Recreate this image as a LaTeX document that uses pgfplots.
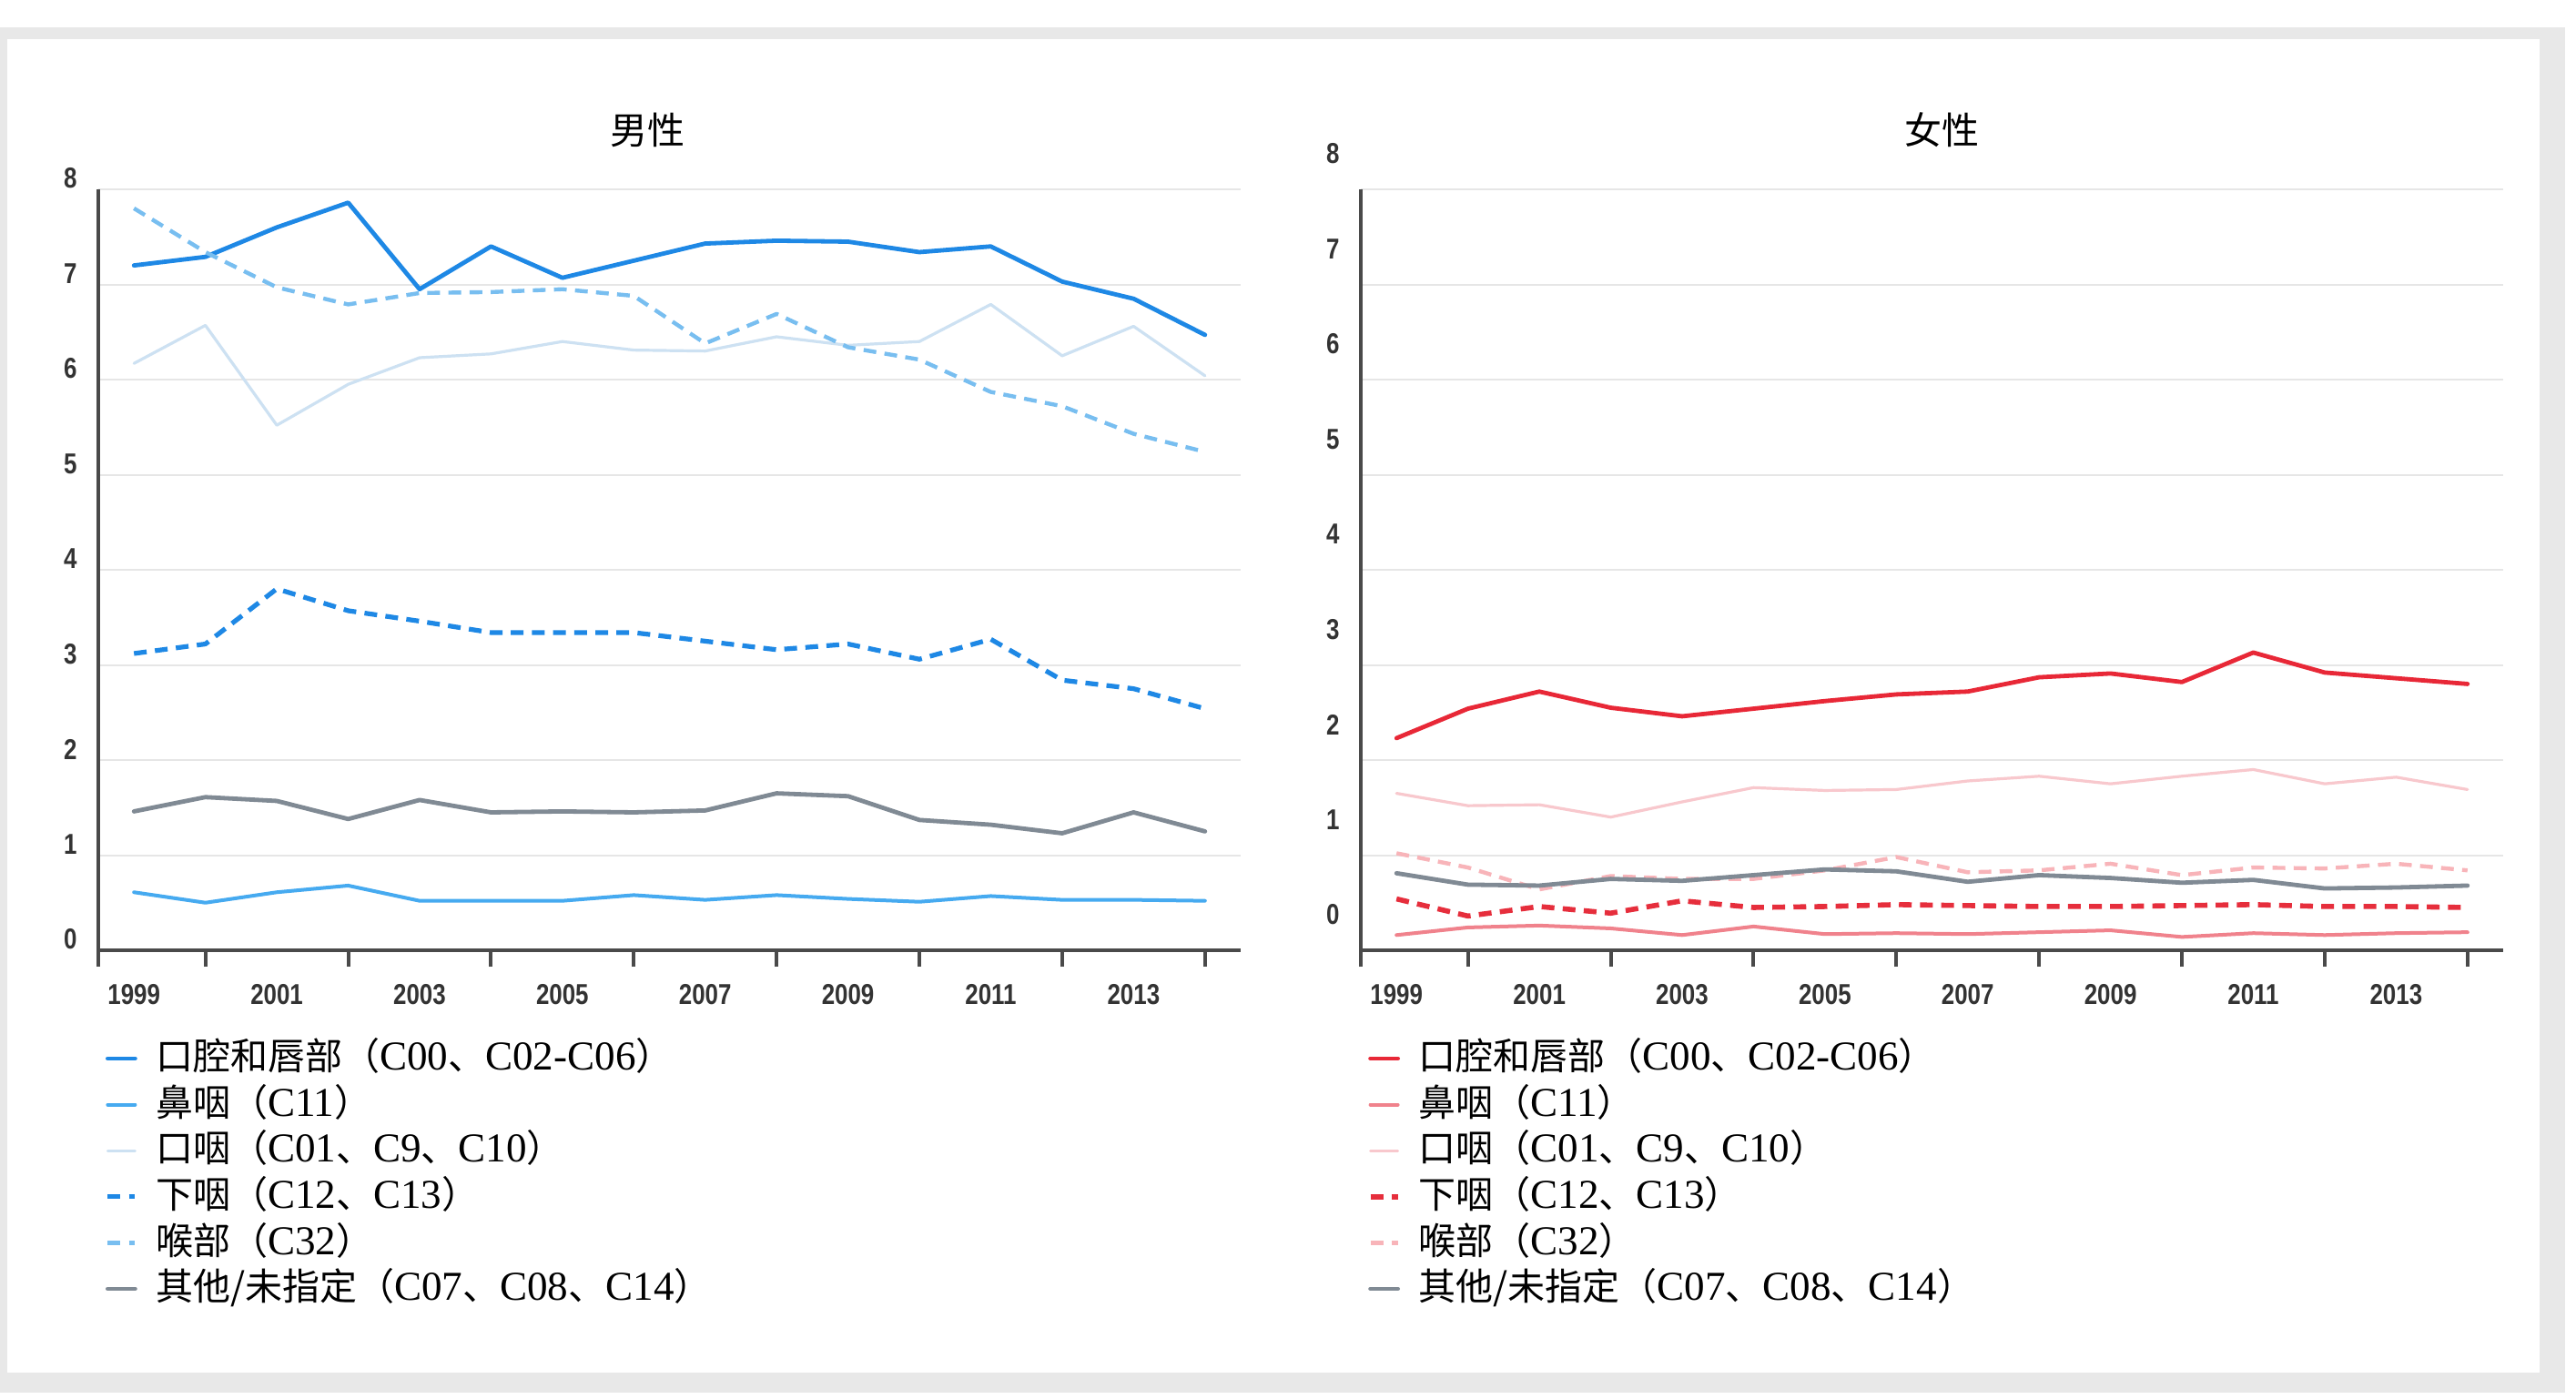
\documentclass[border=0pt]{standalone}
\usepackage{pgfplots}
\usepackage{pgfplotstable}
\pgfplotsset{compat=1.18}
\usepackage{fontspec}
\setmainfont{Liberation Serif}[Scale=1.1]
\newfontfamily\cjk{Noto Sans CJK SC}
\newfontfamily\tickfont[FakeStretch=0.82]{Liberation Sans}

\definecolor{mA}{HTML}{1E88E5}
\definecolor{mB}{HTML}{46AAF0}
\definecolor{mC}{HTML}{CDE1F2}
\definecolor{mE}{HTML}{78BEF0}
\definecolor{gA}{HTML}{808A94}
\definecolor{fA}{HTML}{E82837}
\definecolor{fB}{HTML}{F0828C}
\definecolor{fC}{HTML}{F8C8CD}
\definecolor{fD}{HTML}{E62E3C}
\definecolor{fE}{HTML}{F8B4B9}
\definecolor{axisc}{HTML}{4A4A4A}
\definecolor{gridc}{HTML}{E6E6E6}
\definecolor{tickc}{HTML}{333333}
\definecolor{frame}{HTML}{E8E8E8}

\pgfplotstableread{
year oral naso oro hypo lar other
1999 7.20 0.61 6.17 3.12 7.80 1.46
2000 7.29 0.50 6.57 3.22 7.34 1.61
2001 7.60 0.61 5.52 3.80 6.97 1.57
2002 7.86 0.68 5.95 3.57 6.79 1.38
2003 6.95 0.52 6.23 3.46 6.91 1.58
2004 7.40 0.52 6.27 3.34 6.92 1.45
2005 7.07 0.52 6.40 3.34 6.95 1.46
2006 7.25 0.58 6.31 3.34 6.88 1.45
2007 7.43 0.53 6.30 3.25 6.38 1.47
2008 7.46 0.58 6.45 3.16 6.69 1.65
2009 7.45 0.54 6.36 3.22 6.34 1.62
2010 7.34 0.51 6.40 3.06 6.21 1.37
2011 7.40 0.57 6.79 3.27 5.87 1.32
2012 7.03 0.53 6.25 2.84 5.72 1.23
2013 6.85 0.53 6.56 2.75 5.43 1.45
2014 6.47 0.52 6.04 2.54 5.24 1.25
}\male

\pgfplotstableread{
year oral naso oro hypo lar other
1999 2.23 0.16 1.65 0.54 1.02 0.81
2000 2.54 0.24 1.52 0.36 0.87 0.69
2001 2.72 0.26 1.53 0.46 0.64 0.68
2002 2.55 0.23 1.40 0.39 0.78 0.75
2003 2.46 0.16 1.56 0.52 0.75 0.73
2004 2.54 0.25 1.71 0.45 0.75 0.79
2005 2.62 0.17 1.68 0.46 0.84 0.85
2006 2.69 0.18 1.69 0.48 0.98 0.83
2007 2.72 0.17 1.78 0.47 0.82 0.72
2008 2.87 0.19 1.83 0.46 0.84 0.79
2009 2.91 0.21 1.75 0.46 0.91 0.76
2010 2.82 0.14 1.83 0.47 0.79 0.71
2011 3.13 0.18 1.90 0.48 0.87 0.74
2012 2.92 0.16 1.75 0.46 0.86 0.65
2013 2.86 0.18 1.82 0.46 0.91 0.66
2014 2.80 0.19 1.69 0.45 0.84 0.68
}\female

\pgfplotsset{
  panel/.style={
    scale only axis, width=313.75pt, height=209pt,
    xmin=1998.5, xmax=2014.5, ymin=0, ymax=8,
    axis x line*=bottom, axis y line*=left,
    axis line style={draw=axisc, line width=1pt},
    ytick={0,1,2,3,4,5,6,7,8},
    yticklabels={0,1,2,3,4,5,6,7,8},
    ymajorgrids, grid style={draw=gridc, line width=0.5pt},
    major tick length=0pt,
    xtick={1999,2001,2003,2005,2007,2009,2011,2013},
    xticklabels={1999,2001,2003,2005,2007,2009,2011,2013},
    extra x ticks={1998.5,2000,2002,2004,2006,2008,2010,2012,2014},
    extra x tick labels={},
    extra x tick style={major tick length=4.5pt, tick align=outside,
      major tick style={draw=axisc, line width=1pt}},
    /pgf/number format/assume math mode=true,
    ticklabel style={font=\tickfont\bfseries\fontsize{7.9pt}{8pt}\selectfont, text=tickc},
    xticklabel style={yshift=-5.6pt},
    title style={font=\cjk\fontsize{10.25pt}{12pt}\selectfont, anchor=center, yshift=10.3pt},
    legend image code/.code={\draw[#1] (0pt,0pt) -- (7.5pt,0pt);},
    legend cell align=left,
    legend style={draw=none, fill=none, at={(0,0)}, anchor=north west,
      xshift=1.75pt, yshift=-23.2pt, inner sep=0pt, row sep=0pt, column sep=4pt,
      font=\fontsize{10.25pt}{12pt}\selectfont,
      nodes={inner ysep=0pt, inner xsep=1pt, text height=9.5pt, text depth=3.15pt}},
    every axis plot/.append style={line join=round, line cap=round},
  },
  dsh/.style={dash pattern=on 3.5pt off 2.3pt, line cap=butt},
}

\begin{document}
\begin{tikzpicture}
\fill[white] (0,0) rectangle (707.5pt,384pt);
\fill[frame] (0,1.5pt) rectangle (704.5pt,376.5pt);
\fill[white] (2pt,7pt) rectangle (697.5pt,373.25pt);

\begin{axis}[panel, at={(27pt,123pt)}, anchor=south west,
  title={男性}, title style={xshift=-5.9pt},
  yticklabel style={yshift=3pt, xshift=-2pt}]
\addplot[mA, line width=1.2pt] table[x=year, y=oral] {\male};
\addlegendentry{{\cjk 口腔和唇部（}C00{\cjk 、}C02-C06{\cjk ）}}
\addplot[mB, line width=1pt] table[x=year, y=naso] {\male};
\addlegendentry{{\cjk 鼻咽（}C11{\cjk ）}}
\addplot[mC, line width=0.8pt] table[x=year, y=oro] {\male};
\addlegendentry{{\cjk 口咽（}C01{\cjk 、}C9{\cjk 、}C10{\cjk ）}}
\addplot[mA, line width=1.3pt, dsh] table[x=year, y=hypo] {\male};
\addlegendentry{{\cjk 下咽（}C12{\cjk 、}C13{\cjk ）}}
\addplot[mE, line width=1.1pt, dsh] table[x=year, y=lar] {\male};
\addlegendentry{{\cjk 喉部（}C32{\cjk ）}}
\addplot[gA, line width=1.2pt] table[x=year, y=other] {\male};
\addlegendentry{{\cjk 其他/未指定（}C07{\cjk 、}C08{\cjk 、}C14{\cjk ）}}
\end{axis}

\begin{axis}[panel, at={(373.75pt,123pt)}, anchor=south west,
  title={女性}, title style={xshift=2.75pt},
  yticklabel style={yshift=9.75pt, xshift=-2pt}]
\addplot[fA, line width=1.2pt] table[x=year, y=oral] {\female};
\addlegendentry{{\cjk 口腔和唇部（}C00{\cjk 、}C02-C06{\cjk ）}}
\addplot[fB, line width=1pt] table[x=year, y=naso] {\female};
\addlegendentry{{\cjk 鼻咽（}C11{\cjk ）}}
\addplot[fC, line width=0.8pt] table[x=year, y=oro] {\female};
\addlegendentry{{\cjk 口咽（}C01{\cjk 、}C9{\cjk 、}C10{\cjk ）}}
\addplot[fD, line width=1.4pt, dsh] table[x=year, y=hypo] {\female};
\addlegendentry{{\cjk 下咽（}C12{\cjk 、}C13{\cjk ）}}
\addplot[fE, line width=1.1pt, dsh] table[x=year, y=lar] {\female};
\addlegendentry{{\cjk 喉部（}C32{\cjk ）}}
\addplot[gA, line width=1.2pt] table[x=year, y=other] {\female};
\addlegendentry{{\cjk 其他/未指定（}C07{\cjk 、}C08{\cjk 、}C14{\cjk ）}}
\end{axis}

\pgfresetboundingbox
\useasboundingbox (0,0) rectangle (707.5pt,384pt);
\end{tikzpicture}
\end{document}
